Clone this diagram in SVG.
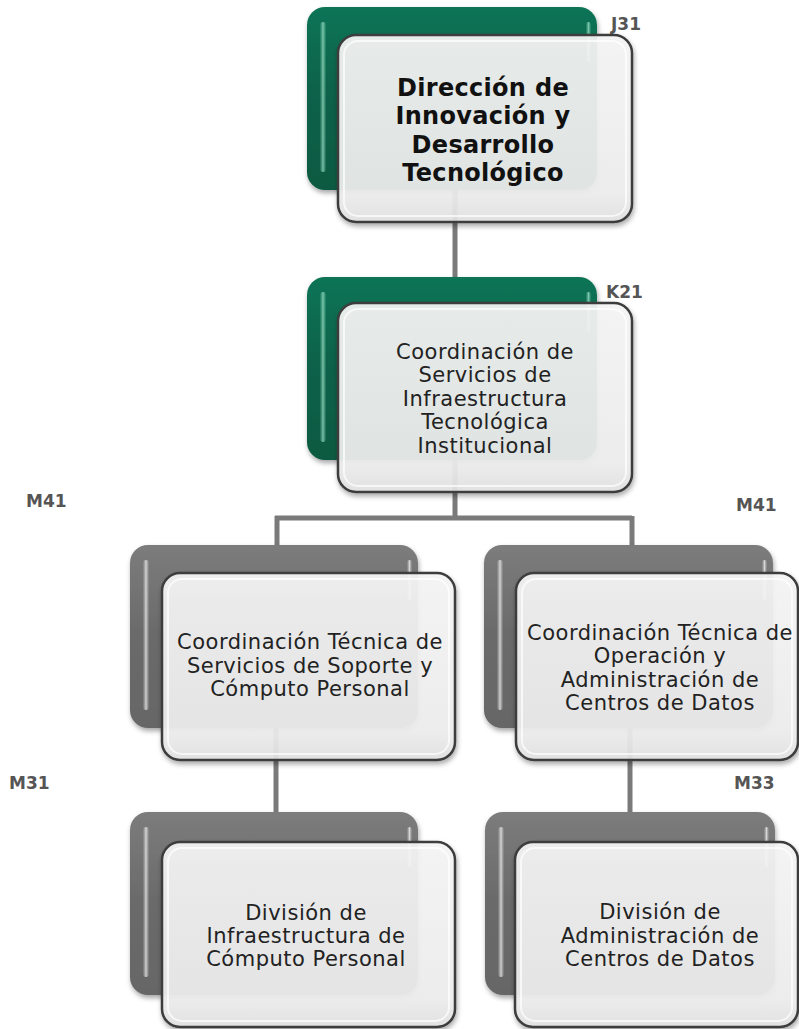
<svg xmlns="http://www.w3.org/2000/svg" width="799" height="1029" viewBox="0 0 799 1029">
<defs>
<linearGradient id="gGreen" x1="0" y1="0" x2="0" y2="1">
<stop offset="0" stop-color="#107456"/>
<stop offset="0.5" stop-color="#0b6148"/>
<stop offset="1" stop-color="#0b5a42"/>
</linearGradient>
<linearGradient id="gGray" x1="0" y1="0" x2="0" y2="1">
<stop offset="0" stop-color="#7c7c7c"/>
<stop offset="0.5" stop-color="#6a6a6a"/>
<stop offset="1" stop-color="#666666"/>
</linearGradient>
<linearGradient id="gFront" x1="0" y1="0" x2="0" y2="1">
<stop offset="0" stop-color="#f6f6f6"/>
<stop offset="0.85" stop-color="#eeeeee"/>
<stop offset="1" stop-color="#e2e2e2"/>
</linearGradient>
<linearGradient id="gHiG" x1="0" y1="0" x2="1" y2="0">
<stop offset="0" stop-color="#7fd3b4" stop-opacity="0.1"/>
<stop offset="0.5" stop-color="#a8ead2" stop-opacity="0.7"/>
<stop offset="1" stop-color="#7fd3b4" stop-opacity="0.1"/>
</linearGradient>
<linearGradient id="gHiK" x1="0" y1="0" x2="1" y2="0">
<stop offset="0" stop-color="#cccccc" stop-opacity="0.1"/>
<stop offset="0.5" stop-color="#ffffff" stop-opacity="0.7"/>
<stop offset="1" stop-color="#cccccc" stop-opacity="0.1"/>
</linearGradient>
<filter id="sh" x="-10%" y="-10%" width="125%" height="130%">
<feDropShadow dx="1" dy="3" stdDeviation="2.5" flood-color="#000" flood-opacity="0.35"/>
</filter>
</defs>
<style>
.bg{fill:url(#gGreen);filter:url(#sh)}
.bk{fill:url(#gGray);filter:url(#sh)}
.hg{fill:url(#gHiG)}
.hk{fill:url(#gHiK)}
.fr{fill:url(#gFront);fill-opacity:0.92;stroke:#3c3c3c;stroke-width:2.5;filter:url(#sh)}
.in{fill:none;stroke:#ffffff;stroke-width:2;stroke-opacity:0.7}
.t{font-family:"DejaVu Sans","Liberation Sans",sans-serif;font-size:21px;letter-spacing:0.5px;fill:#222;text-anchor:middle}
.tb{font-family:"DejaVu Sans","Liberation Sans",sans-serif;font-size:24px;letter-spacing:0.3px;font-weight:bold;fill:#111;text-anchor:middle}
.lab{font-family:"DejaVu Sans","Liberation Sans",sans-serif;font-size:17px;font-weight:bold;fill:#555}
.c{stroke:#7a7a7a;stroke-width:5;fill:none}
</style>

<g id="connectors">
<path class="c" d="M455 190 V277"/>
<path class="c" d="M455 460 V520 M275 518 H632 M277 516 V545 M632 516 V545"/>
<path class="c" d="M276 728 V812"/>
<path class="c" d="M630 728 V812"/>
</g>

<g id="n-J31">
<rect class="bg" x="307" y="7" width="290" height="183" rx="18"/>
<rect class="hg" x="320" y="22" width="6" height="150" rx="3"/>
<rect class="hg" x="586" y="22" width="5" height="40" rx="2.5"/>
<rect class="fr" x="338" y="35" width="294" height="187" rx="18"/>
<rect class="in" x="344" y="41" width="282" height="175" rx="14"/>
<text class="tb" x="483" y="96">Dirección de</text>
<text class="tb" x="483" y="124">Innovación y</text>
<text class="tb" x="483" y="153">Desarrollo</text>
<text class="tb" x="483" y="181">Tecnológico</text>
<text class="lab" x="611" y="30">J31</text>
</g>

<g id="n-K21">
<rect class="bg" x="307" y="277" width="290" height="183" rx="18"/>
<rect class="hg" x="320" y="292" width="6" height="150" rx="3"/>
<rect class="hg" x="586" y="292" width="5" height="40" rx="2.5"/>
<rect class="fr" x="338" y="303" width="294" height="189" rx="18"/>
<rect class="in" x="344" y="309" width="282" height="177" rx="14"/>
<text class="t" x="485" y="359">Coordinación de</text>
<text class="t" x="485" y="382">Servicios de</text>
<text class="t" x="485" y="406">Infraestructura</text>
<text class="t" x="485" y="429">Tecnológica</text>
<text class="t" x="485" y="453">Institucional</text>
<text class="lab" x="606" y="298">K21</text>
</g>

<g id="n-M41a">
<rect class="bk" x="130" y="545" width="288" height="183" rx="18"/>
<rect class="hk" x="143" y="560" width="6" height="150" rx="3"/>
<rect class="hk" x="407" y="560" width="5" height="40" rx="2.5"/>
<rect class="fr" x="162" y="573" width="293" height="187" rx="18"/>
<rect class="in" x="168" y="579" width="281" height="175" rx="14"/>
<text class="t" x="310" y="649">Coordinación Técnica de</text>
<text class="t" x="310" y="673">Servicios de Soporte y</text>
<text class="t" x="310" y="696">Cómputo Personal</text>
<text class="lab" x="26" y="507">M41</text>
</g>

<g id="n-M41b">
<rect class="bk" x="484" y="545" width="289" height="183" rx="18"/>
<rect class="hk" x="497" y="560" width="6" height="150" rx="3"/>
<rect class="hk" x="762" y="560" width="5" height="40" rx="2.5"/>
<rect class="fr" x="516" y="573" width="282" height="187" rx="18"/>
<rect class="in" x="522" y="579" width="270" height="175" rx="14"/>
<text class="t" x="660" y="640">Coordinación Técnica de</text>
<text class="t" x="660" y="663">Operación y</text>
<text class="t" x="660" y="687">Administración de</text>
<text class="t" x="660" y="710">Centros de Datos</text>
<text class="lab" x="736" y="511">M41</text>
</g>

<g id="n-M31">
<rect class="bk" x="130" y="812" width="288" height="183" rx="18"/>
<rect class="hk" x="143" y="827" width="6" height="150" rx="3"/>
<rect class="hk" x="407" y="827" width="5" height="40" rx="2.5"/>
<rect class="fr" x="162" y="842" width="293" height="185" rx="18"/>
<rect class="in" x="168" y="848" width="281" height="173" rx="14"/>
<text class="t" x="306" y="920">División de</text>
<text class="t" x="306" y="943">Infraestructura de</text>
<text class="t" x="306" y="966">Cómputo Personal</text>
<text class="lab" x="9" y="789">M31</text>
</g>

<g id="n-M33">
<rect class="bk" x="485" y="812" width="290" height="183" rx="18"/>
<rect class="hk" x="498" y="827" width="6" height="150" rx="3"/>
<rect class="hk" x="764" y="827" width="5" height="40" rx="2.5"/>
<rect class="fr" x="515" y="842" width="283" height="185" rx="18"/>
<rect class="in" x="521" y="848" width="271" height="173" rx="14"/>
<text class="t" x="660" y="919">División de</text>
<text class="t" x="660" y="943">Administración de</text>
<text class="t" x="660" y="966">Centros de Datos</text>
<text class="lab" x="734" y="789">M33</text>
</g>
</svg>
